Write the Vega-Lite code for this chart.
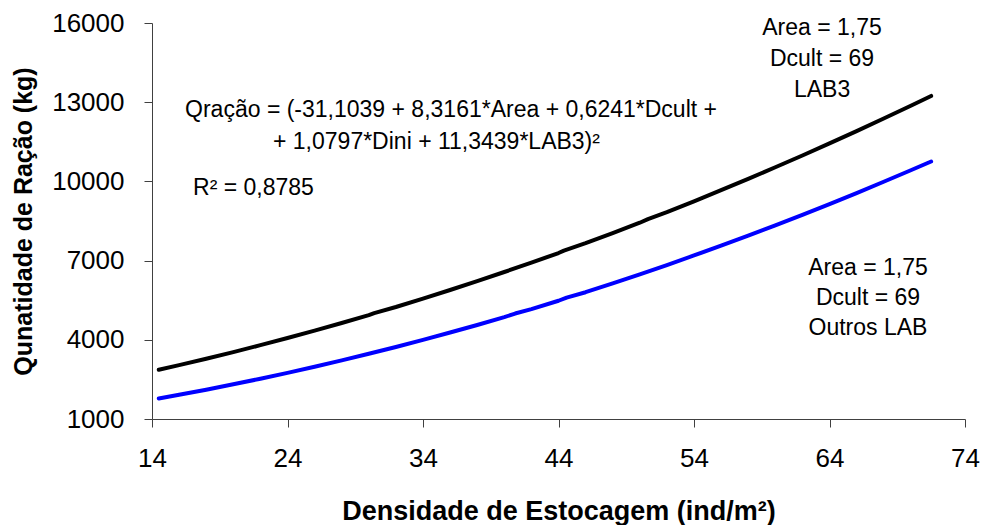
{
  "$schema": "https://vega.github.io/schema/vega-lite/v6.json",
  "width": 813,
  "height": 396,
  "autosize": {"type": "none"},
  "padding": {"left": 152, "top": 23, "right": 17, "bottom": 106},
  "background": "white",
  "config": {
    "view": {"stroke": null},
    "font": "Liberation Sans",
    "axis": {
      "grid": false,
      "domainColor": "#404040",
      "tickColor": "#404040",
      "domainWidth": 1,
      "tickWidth": 1,
      "tickSize": 8,
      "labelColor": "#000000",
      "titleColor": "#000000",
      "labelFont": "Liberation Sans",
      "titleFont": "Liberation Sans",
      "labelFontSize": 26,
      "titleFontSize": 27,
      "titleFontWeight": "bold",
      "labelOverlap": false,
      "labelFlush": false
    }
  },
  "datasets": {
    "curvas": [
      {"dini": 14.5, "racao": 2864, "grupo": "LAB3"},
      {"dini": 16, "racao": 3039, "grupo": "LAB3"},
      {"dini": 18, "racao": 3282, "grupo": "LAB3"},
      {"dini": 20, "racao": 3534, "grupo": "LAB3"},
      {"dini": 22, "racao": 3796, "grupo": "LAB3"},
      {"dini": 24, "racao": 4067, "grupo": "LAB3"},
      {"dini": 26, "racao": 4347, "grupo": "LAB3"},
      {"dini": 28, "racao": 4636, "grupo": "LAB3"},
      {"dini": 30, "racao": 4935, "grupo": "LAB3"},
      {"dini": 30.4, "racao": 5010, "grupo": "LAB3"},
      {"dini": 32, "racao": 5243, "grupo": "LAB3"},
      {"dini": 34, "racao": 5560, "grupo": "LAB3"},
      {"dini": 36, "racao": 5887, "grupo": "LAB3"},
      {"dini": 38, "racao": 6223, "grupo": "LAB3"},
      {"dini": 40, "racao": 6568, "grupo": "LAB3"},
      {"dini": 42, "racao": 6923, "grupo": "LAB3"},
      {"dini": 44, "racao": 7287, "grupo": "LAB3"},
      {"dini": 44.4, "racao": 7380, "grupo": "LAB3"},
      {"dini": 46, "racao": 7660, "grupo": "LAB3"},
      {"dini": 48, "racao": 8043, "grupo": "LAB3"},
      {"dini": 50, "racao": 8435, "grupo": "LAB3"},
      {"dini": 50.6, "racao": 8570, "grupo": "LAB3"},
      {"dini": 52, "racao": 8836, "grupo": "LAB3"},
      {"dini": 54, "racao": 9247, "grupo": "LAB3"},
      {"dini": 56, "racao": 9667, "grupo": "LAB3"},
      {"dini": 58, "racao": 10096, "grupo": "LAB3"},
      {"dini": 60, "racao": 10535, "grupo": "LAB3"},
      {"dini": 62, "racao": 10982, "grupo": "LAB3"},
      {"dini": 64, "racao": 11440, "grupo": "LAB3"},
      {"dini": 66, "racao": 11906, "grupo": "LAB3"},
      {"dini": 68, "racao": 12382, "grupo": "LAB3"},
      {"dini": 70, "racao": 12868, "grupo": "LAB3"},
      {"dini": 71.5, "racao": 13237, "grupo": "LAB3"},
      {"dini": 14.5, "racao": 1778, "grupo": "Outros LAB"},
      {"dini": 16, "racao": 1917, "grupo": "Outros LAB"},
      {"dini": 18, "racao": 2111, "grupo": "Outros LAB"},
      {"dini": 20, "racao": 2314, "grupo": "Outros LAB"},
      {"dini": 22, "racao": 2527, "grupo": "Outros LAB"},
      {"dini": 24, "racao": 2748, "grupo": "Outros LAB"},
      {"dini": 26, "racao": 2979, "grupo": "Outros LAB"},
      {"dini": 28, "racao": 3220, "grupo": "Outros LAB"},
      {"dini": 30, "racao": 3470, "grupo": "Outros LAB"},
      {"dini": 32, "racao": 3729, "grupo": "Outros LAB"},
      {"dini": 34, "racao": 3997, "grupo": "Outros LAB"},
      {"dini": 36, "racao": 4275, "grupo": "Outros LAB"},
      {"dini": 38, "racao": 4562, "grupo": "Outros LAB"},
      {"dini": 40, "racao": 4858, "grupo": "Outros LAB"},
      {"dini": 40.8, "racao": 4995, "grupo": "Outros LAB"},
      {"dini": 42, "racao": 5164, "grupo": "Outros LAB"},
      {"dini": 44, "racao": 5479, "grupo": "Outros LAB"},
      {"dini": 44.6, "racao": 5600, "grupo": "Outros LAB"},
      {"dini": 46, "racao": 5803, "grupo": "Outros LAB"},
      {"dini": 48, "racao": 6137, "grupo": "Outros LAB"},
      {"dini": 50, "racao": 6480, "grupo": "Outros LAB"},
      {"dini": 52, "racao": 6832, "grupo": "Outros LAB"},
      {"dini": 54, "racao": 7194, "grupo": "Outros LAB"},
      {"dini": 56, "racao": 7565, "grupo": "Outros LAB"},
      {"dini": 58, "racao": 7945, "grupo": "Outros LAB"},
      {"dini": 60, "racao": 8335, "grupo": "Outros LAB"},
      {"dini": 62, "racao": 8734, "grupo": "Outros LAB"},
      {"dini": 64, "racao": 9142, "grupo": "Outros LAB"},
      {"dini": 66, "racao": 9559, "grupo": "Outros LAB"},
      {"dini": 68, "racao": 9986, "grupo": "Outros LAB"},
      {"dini": 70, "racao": 10423, "grupo": "Outros LAB"},
      {"dini": 71.5, "racao": 10755, "grupo": "Outros LAB"}
    ]
  },
  "layer": [
    {
      "data": {"name": "curvas"},
      "mark": {"type": "line", "strokeWidth": 4, "strokeCap": "round", "strokeJoin": "round"},
      "encoding": {
        "x": {
          "field": "dini",
          "type": "quantitative",
          "scale": {"domain": [14, 74], "nice": false, "zero": false},
          "axis": {
            "values": [14, 24, 34, 44, 54, 64, 74],
            "title": "Densidade de Estocagem (ind/m²)",
            "labelPadding": 18,
            "titlePadding": 27
          }
        },
        "y": {
          "field": "racao",
          "type": "quantitative",
          "scale": {"domain": [1000, 16000], "nice": false, "zero": false},
          "axis": {
            "values": [1000, 4000, 7000, 10000, 13000, 16000],
            "format": "d",
            "title": "Qunatidade de Ração (kg)",
            "titleFontSize": 25,
            "labelPadding": 20,
            "titlePadding": 15
          }
        },
        "color": {
          "field": "grupo",
          "type": "nominal",
          "scale": {"domain": ["LAB3", "Outros LAB"], "range": ["#000000", "#0000ff"]},
          "legend": null
        }
      }
    },
    {
      "data": {"values": [{}]},
      "mark": {"type": "text", "align": "left", "baseline": "middle", "fontSize": 23, "font": "Liberation Sans", "color": "#000000"},
      "encoding": {
        "x": {"datum": 16.44, "type": "quantitative"},
        "y": {"datum": 12716, "type": "quantitative"},
        "text": {"value": "Qração = (-31,1039 + 8,3161*Area + 0,6241*Dcult +"}
      }
    },
    {
      "data": {"values": [{}]},
      "mark": {"type": "text", "align": "left", "baseline": "middle", "fontSize": 23, "font": "Liberation Sans", "color": "#000000"},
      "encoding": {
        "x": {"datum": 22.93, "type": "quantitative"},
        "y": {"datum": 11504, "type": "quantitative"},
        "text": {"value": "+ 1,0797*Dini + 11,3439*LAB3)²"}
      }
    },
    {
      "data": {"values": [{}]},
      "mark": {"type": "text", "align": "left", "baseline": "middle", "fontSize": 23, "font": "Liberation Sans", "color": "#000000"},
      "encoding": {
        "x": {"datum": 17.03, "type": "quantitative"},
        "y": {"datum": 9762, "type": "quantitative"},
        "text": {"value": "R² = 0,8785"}
      }
    },
    {
      "data": {"values": [{}]},
      "mark": {"type": "text", "align": "center", "baseline": "middle", "fontSize": 23, "font": "Liberation Sans", "color": "#000000", "lineBreak": "\n", "lineHeight": 31},
      "encoding": {
        "x": {"datum": 63.45, "type": "quantitative"},
        "y": {"datum": 15823, "type": "quantitative"},
        "text": {"value": "Area = 1,75\nDcult = 69\nLAB3"}
      }
    },
    {
      "data": {"values": [{}]},
      "mark": {"type": "text", "align": "center", "baseline": "middle", "fontSize": 23, "font": "Liberation Sans", "color": "#000000", "lineBreak": "\n", "lineHeight": 30},
      "encoding": {
        "x": {"datum": 66.84, "type": "quantitative"},
        "y": {"datum": 6731, "type": "quantitative"},
        "text": {"value": "Area = 1,75\nDcult = 69\nOutros LAB"}
      }
    }
  ]
}
